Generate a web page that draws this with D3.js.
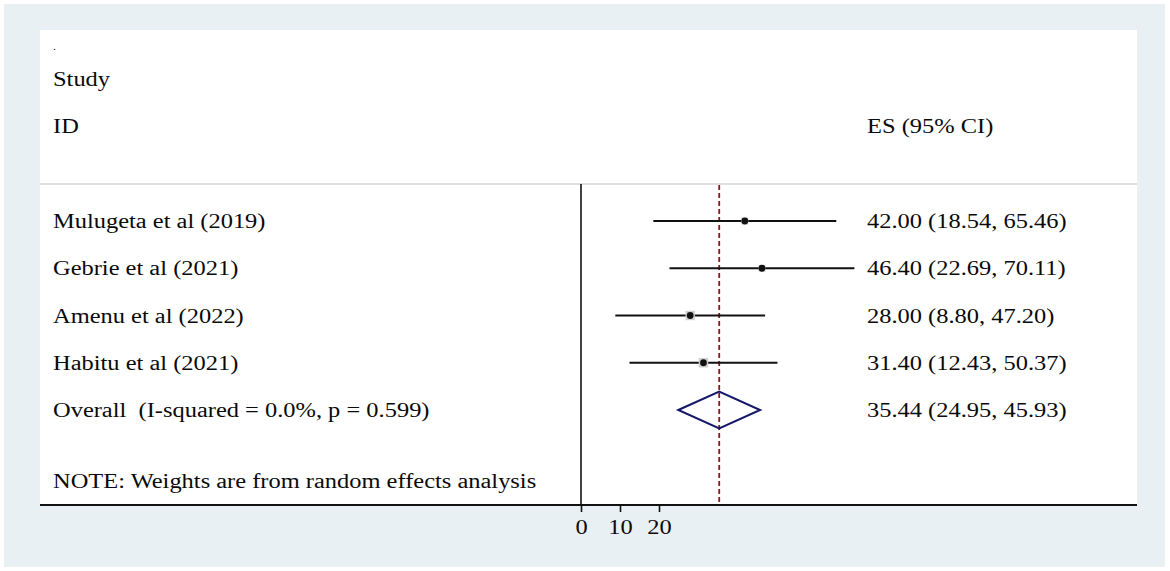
<!DOCTYPE html>
<html>
<head>
<meta charset="utf-8">
<script src="https://cdn.jsdelivr.net/npm/d3@7/dist/d3.min.js"></script>
<style>
html,body{margin:0;padding:0;background:#fff;}
svg{display:block;}
text{font-family:"Liberation Serif","Times New Roman",serif;fill:#0a0a0a;white-space:pre;}
</style>
</head>
<body>
<svg id="chart" width="1170" height="571"></svg>
<script>
// ---- data ----
const studies = ["Mulugeta et al (2019)", "Gebrie et al (2021)", "Amenu et al (2022)", "Habitu et al (2021)"];
const es      = [42.00, 46.40, 28.00, 31.40];
const lower   = [18.54, 22.69, 8.80, 12.43];
const upper   = [65.46, 70.11, 47.20, 50.37];
const weights = [18.0, 17.0, 32.0, 33.0];
const overallLabel = "Overall  (I-squared = 0.0%, p = 0.599)";
const overall = {es: 35.44, lower: 24.95, upper: 45.93};
const tickValues = [0, 10, 20];
const headerLeft = ["Study", "ID"];
const headerRight = "ES (95% CI)";
const note = "NOTE: Weights are from random effects analysis";

// ---- layout ----
const svg = d3.select("#chart");
const panel = {x0: 40, x1: 1137, y0: 30, y1: 505};
const sepY = 184;
const fs = 20;
const sx = 1.223;

function label(px, py, txt, size) {
  return svg.append("text")
    .attr("transform", `translate(${px},${py}) scale(${sx},1)`)
    .attr("font-size", size || fs)
    .text(txt);
}

svg.append("rect").attr("x", 4).attr("y", 4).attr("width", 1161).attr("height", 563).attr("fill", "#e9f0f3");
svg.append("rect").attr("x", panel.x0).attr("y", panel.y0).attr("width", panel.x1 - panel.x0).attr("height", panel.y1 - panel.y0).attr("fill", "#fff");

const x = d3.scaleLinear().domain([0, 100]).range([581, 971]);
const y = d3.scalePoint().domain(d3.range(5)).range([221, 410]);

// separator
svg.append("line").attr("x1", panel.x0).attr("x2", panel.x1).attr("y1", sepY).attr("y2", sepY)
  .attr("stroke", "#d4d4d4").attr("stroke-width", 1.5);

// headers
label(53, 50, ".", 10);
label(53, 86, headerLeft[0]);
label(53, 133, headerLeft[1]);
label(867, 133, headerRight);

// null line at 0
svg.append("line").attr("x1", x(0)).attr("x2", x(0)).attr("y1", sepY).attr("y2", panel.y1)
  .attr("stroke", "#111").attr("stroke-width", 1.6);

// overall dashed line
svg.append("line").attr("x1", x(overall.es)).attr("x2", x(overall.es)).attr("y1", sepY + 1).attr("y2", panel.y1)
  .attr("stroke", "#8e1620").attr("stroke-width", 1.8).attr("stroke-dasharray", "5,3");

// study rows
const maxW = d3.max(weights);
const g = svg.append("g");
studies.forEach((s, i) => {
  const cy = y(i);
  g.append("line").attr("x1", x(lower[i])).attr("x2", x(upper[i])).attr("y1", cy).attr("y2", cy)
    .attr("stroke", "#111").attr("stroke-width", 2);
  const side = 9.5 * Math.sqrt(weights[i] / maxW);
  g.append("rect").attr("x", x(es[i]) - side / 2).attr("y", cy - side / 2).attr("width", side).attr("height", side)
    .attr("fill", "#d0d0d0");
  g.append("circle").attr("cx", x(es[i])).attr("cy", cy).attr("r", 3.4).attr("fill", "#111");
  label(53, cy + 7, s);
  label(867, cy + 7, `${es[i].toFixed(2)} (${lower[i].toFixed(2)}, ${upper[i].toFixed(2)})`);
});

// overall diamond
const oy = y(4);
svg.append("path")
  .attr("d", `M${x(overall.lower)},${oy} L${x(overall.es)},${oy - 18.5} L${x(overall.upper)},${oy} L${x(overall.es)},${oy + 18.5} Z`)
  .attr("fill", "none").attr("stroke", "#14166a").attr("stroke-width", 2);
label(53, oy + 7, overallLabel);
label(867, oy + 7, `${overall.es.toFixed(2)} (${overall.lower.toFixed(2)}, ${overall.upper.toFixed(2)})`);

// note
label(53, 488, note);

// x axis
svg.append("line").attr("x1", panel.x0).attr("x2", panel.x1).attr("y1", panel.y1).attr("y2", panel.y1)
  .attr("stroke", "#111").attr("stroke-width", 1.8);
const axis = d3.axisBottom(x).tickValues(tickValues).tickSize(7).tickPadding(8).tickFormat(d3.format("d"));
const ag = svg.append("g").attr("transform", `translate(0,${panel.y1})`).call(axis);
ag.select(".domain").remove();
ag.selectAll(".tick line").attr("stroke", "#111").attr("stroke-width", 1.6);
ag.selectAll(".tick text").attr("font-size", fs).attr("font-family", "Liberation Serif, serif").attr("fill", "#0a0a0a")
  .attr("transform", `scale(${sx},1)`);
</script>
</body>
</html>
